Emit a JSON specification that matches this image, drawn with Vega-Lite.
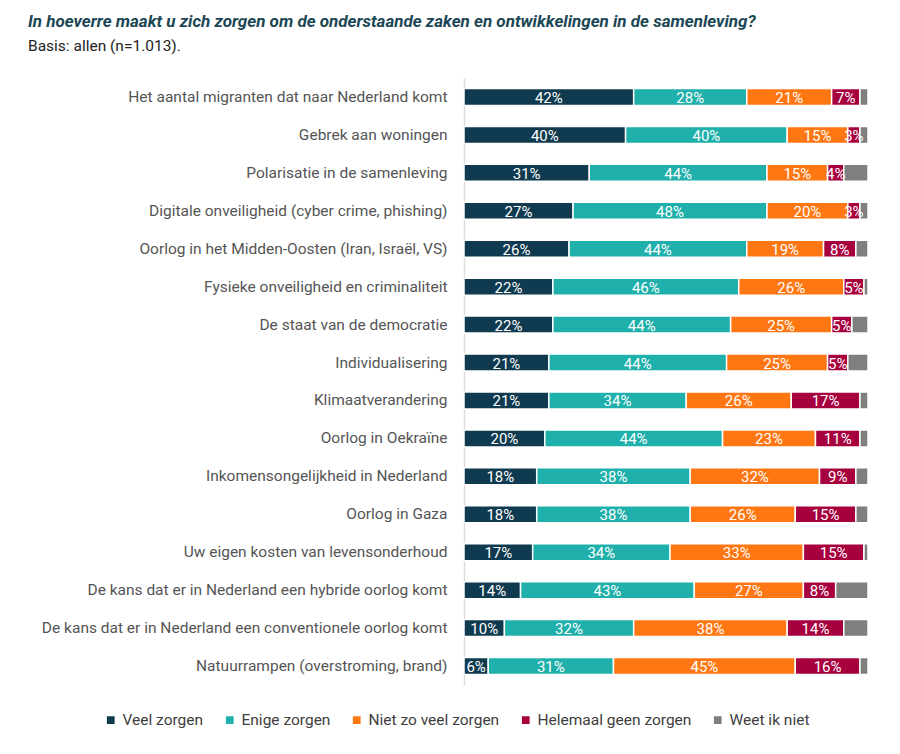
{
  "$schema": "https://vega.github.io/schema/vega-lite/v6.json",
  "autosize": "none",
  "width": 404,
  "height": 607,
  "padding": {"left": 464, "top": 78, "right": 32, "bottom": 69},
  "background": "white",
  "title": {
    "text": "In hoeverre maakt u zich zorgen om de onderstaande zaken en ontwikkelingen in de samenleving?",
    "subtitle": "Basis: allen (n=1.013).",
    "anchor": "start",
    "frame": "group",
    "dx": -436,
    "offset": 23,
    "font": "Roboto",
    "fontSize": 17,
    "fontWeight": "bold",
    "fontStyle": "italic",
    "color": "#1b4755",
    "subtitleFont": "Roboto",
    "subtitleFontSize": 15.5,
    "subtitleColor": "#222222",
    "subtitlePadding": 8
  },
  "data": {"values": [
    {"item": "Het aantal migranten dat naar Nederland komt", "cat": "Veel zorgen", "k": 1, "value": 42},
    {"item": "Het aantal migranten dat naar Nederland komt", "cat": "Enige zorgen", "k": 2, "value": 28},
    {"item": "Het aantal migranten dat naar Nederland komt", "cat": "Niet zo veel zorgen", "k": 3, "value": 21},
    {"item": "Het aantal migranten dat naar Nederland komt", "cat": "Helemaal geen zorgen", "k": 4, "value": 7},
    {"item": "Het aantal migranten dat naar Nederland komt", "cat": "Weet ik niet", "k": 5, "value": 2},
    {"item": "Gebrek aan woningen", "cat": "Veel zorgen", "k": 1, "value": 40},
    {"item": "Gebrek aan woningen", "cat": "Enige zorgen", "k": 2, "value": 40},
    {"item": "Gebrek aan woningen", "cat": "Niet zo veel zorgen", "k": 3, "value": 15},
    {"item": "Gebrek aan woningen", "cat": "Helemaal geen zorgen", "k": 4, "value": 3},
    {"item": "Gebrek aan woningen", "cat": "Weet ik niet", "k": 5, "value": 2},
    {"item": "Polarisatie in de samenleving", "cat": "Veel zorgen", "k": 1, "value": 31},
    {"item": "Polarisatie in de samenleving", "cat": "Enige zorgen", "k": 2, "value": 44},
    {"item": "Polarisatie in de samenleving", "cat": "Niet zo veel zorgen", "k": 3, "value": 15},
    {"item": "Polarisatie in de samenleving", "cat": "Helemaal geen zorgen", "k": 4, "value": 4},
    {"item": "Polarisatie in de samenleving", "cat": "Weet ik niet", "k": 5, "value": 6},
    {"item": "Digitale onveiligheid (cyber crime, phishing)", "cat": "Veel zorgen", "k": 1, "value": 27},
    {"item": "Digitale onveiligheid (cyber crime, phishing)", "cat": "Enige zorgen", "k": 2, "value": 48},
    {"item": "Digitale onveiligheid (cyber crime, phishing)", "cat": "Niet zo veel zorgen", "k": 3, "value": 20},
    {"item": "Digitale onveiligheid (cyber crime, phishing)", "cat": "Helemaal geen zorgen", "k": 4, "value": 3},
    {"item": "Digitale onveiligheid (cyber crime, phishing)", "cat": "Weet ik niet", "k": 5, "value": 2},
    {"item": "Oorlog in het Midden-Oosten (Iran, Israël, VS)", "cat": "Veel zorgen", "k": 1, "value": 26},
    {"item": "Oorlog in het Midden-Oosten (Iran, Israël, VS)", "cat": "Enige zorgen", "k": 2, "value": 44},
    {"item": "Oorlog in het Midden-Oosten (Iran, Israël, VS)", "cat": "Niet zo veel zorgen", "k": 3, "value": 19},
    {"item": "Oorlog in het Midden-Oosten (Iran, Israël, VS)", "cat": "Helemaal geen zorgen", "k": 4, "value": 8},
    {"item": "Oorlog in het Midden-Oosten (Iran, Israël, VS)", "cat": "Weet ik niet", "k": 5, "value": 3},
    {"item": "Fysieke onveiligheid en criminaliteit", "cat": "Veel zorgen", "k": 1, "value": 22},
    {"item": "Fysieke onveiligheid en criminaliteit", "cat": "Enige zorgen", "k": 2, "value": 46},
    {"item": "Fysieke onveiligheid en criminaliteit", "cat": "Niet zo veel zorgen", "k": 3, "value": 26},
    {"item": "Fysieke onveiligheid en criminaliteit", "cat": "Helemaal geen zorgen", "k": 4, "value": 5},
    {"item": "Fysieke onveiligheid en criminaliteit", "cat": "Weet ik niet", "k": 5, "value": 1},
    {"item": "De staat van de democratie", "cat": "Veel zorgen", "k": 1, "value": 22},
    {"item": "De staat van de democratie", "cat": "Enige zorgen", "k": 2, "value": 44},
    {"item": "De staat van de democratie", "cat": "Niet zo veel zorgen", "k": 3, "value": 25},
    {"item": "De staat van de democratie", "cat": "Helemaal geen zorgen", "k": 4, "value": 5},
    {"item": "De staat van de democratie", "cat": "Weet ik niet", "k": 5, "value": 4},
    {"item": "Individualisering", "cat": "Veel zorgen", "k": 1, "value": 21},
    {"item": "Individualisering", "cat": "Enige zorgen", "k": 2, "value": 44},
    {"item": "Individualisering", "cat": "Niet zo veel zorgen", "k": 3, "value": 25},
    {"item": "Individualisering", "cat": "Helemaal geen zorgen", "k": 4, "value": 5},
    {"item": "Individualisering", "cat": "Weet ik niet", "k": 5, "value": 5},
    {"item": "Klimaatverandering", "cat": "Veel zorgen", "k": 1, "value": 21},
    {"item": "Klimaatverandering", "cat": "Enige zorgen", "k": 2, "value": 34},
    {"item": "Klimaatverandering", "cat": "Niet zo veel zorgen", "k": 3, "value": 26},
    {"item": "Klimaatverandering", "cat": "Helemaal geen zorgen", "k": 4, "value": 17},
    {"item": "Klimaatverandering", "cat": "Weet ik niet", "k": 5, "value": 2},
    {"item": "Oorlog in Oekraïne", "cat": "Veel zorgen", "k": 1, "value": 20},
    {"item": "Oorlog in Oekraïne", "cat": "Enige zorgen", "k": 2, "value": 44},
    {"item": "Oorlog in Oekraïne", "cat": "Niet zo veel zorgen", "k": 3, "value": 23},
    {"item": "Oorlog in Oekraïne", "cat": "Helemaal geen zorgen", "k": 4, "value": 11},
    {"item": "Oorlog in Oekraïne", "cat": "Weet ik niet", "k": 5, "value": 2},
    {"item": "Inkomensongelijkheid in Nederland", "cat": "Veel zorgen", "k": 1, "value": 18},
    {"item": "Inkomensongelijkheid in Nederland", "cat": "Enige zorgen", "k": 2, "value": 38},
    {"item": "Inkomensongelijkheid in Nederland", "cat": "Niet zo veel zorgen", "k": 3, "value": 32},
    {"item": "Inkomensongelijkheid in Nederland", "cat": "Helemaal geen zorgen", "k": 4, "value": 9},
    {"item": "Inkomensongelijkheid in Nederland", "cat": "Weet ik niet", "k": 5, "value": 3},
    {"item": "Oorlog in Gaza", "cat": "Veel zorgen", "k": 1, "value": 18},
    {"item": "Oorlog in Gaza", "cat": "Enige zorgen", "k": 2, "value": 38},
    {"item": "Oorlog in Gaza", "cat": "Niet zo veel zorgen", "k": 3, "value": 26},
    {"item": "Oorlog in Gaza", "cat": "Helemaal geen zorgen", "k": 4, "value": 15},
    {"item": "Oorlog in Gaza", "cat": "Weet ik niet", "k": 5, "value": 3},
    {"item": "Uw eigen kosten van levensonderhoud", "cat": "Veel zorgen", "k": 1, "value": 17},
    {"item": "Uw eigen kosten van levensonderhoud", "cat": "Enige zorgen", "k": 2, "value": 34},
    {"item": "Uw eigen kosten van levensonderhoud", "cat": "Niet zo veel zorgen", "k": 3, "value": 33},
    {"item": "Uw eigen kosten van levensonderhoud", "cat": "Helemaal geen zorgen", "k": 4, "value": 15},
    {"item": "Uw eigen kosten van levensonderhoud", "cat": "Weet ik niet", "k": 5, "value": 1},
    {"item": "De kans dat er in Nederland een hybride oorlog komt", "cat": "Veel zorgen", "k": 1, "value": 14},
    {"item": "De kans dat er in Nederland een hybride oorlog komt", "cat": "Enige zorgen", "k": 2, "value": 43},
    {"item": "De kans dat er in Nederland een hybride oorlog komt", "cat": "Niet zo veel zorgen", "k": 3, "value": 27},
    {"item": "De kans dat er in Nederland een hybride oorlog komt", "cat": "Helemaal geen zorgen", "k": 4, "value": 8},
    {"item": "De kans dat er in Nederland een hybride oorlog komt", "cat": "Weet ik niet", "k": 5, "value": 8},
    {"item": "De kans dat er in Nederland een conventionele oorlog komt", "cat": "Veel zorgen", "k": 1, "value": 10},
    {"item": "De kans dat er in Nederland een conventionele oorlog komt", "cat": "Enige zorgen", "k": 2, "value": 32},
    {"item": "De kans dat er in Nederland een conventionele oorlog komt", "cat": "Niet zo veel zorgen", "k": 3, "value": 38},
    {"item": "De kans dat er in Nederland een conventionele oorlog komt", "cat": "Helemaal geen zorgen", "k": 4, "value": 14},
    {"item": "De kans dat er in Nederland een conventionele oorlog komt", "cat": "Weet ik niet", "k": 5, "value": 6},
    {"item": "Natuurrampen (overstroming, brand)", "cat": "Veel zorgen", "k": 1, "value": 6},
    {"item": "Natuurrampen (overstroming, brand)", "cat": "Enige zorgen", "k": 2, "value": 31},
    {"item": "Natuurrampen (overstroming, brand)", "cat": "Niet zo veel zorgen", "k": 3, "value": 45},
    {"item": "Natuurrampen (overstroming, brand)", "cat": "Helemaal geen zorgen", "k": 4, "value": 16},
    {"item": "Natuurrampen (overstroming, brand)", "cat": "Weet ik niet", "k": 5, "value": 2}
  ]},
  "encoding": {
    "y": {
      "field": "item", "type": "nominal", "sort": null, "title": null,
      "scale": {"paddingInner": 0.6, "paddingOuter": 0.3},
      "axis": {
        "ticks": false, "domain": true, "domainColor": "#dddddd", "domainWidth": 1.5,
        "labelFont": "Roboto", "labelFontSize": 15.5, "labelColor": "#555555",
        "labelPadding": 17, "labelLimit": 460
      }
    },
    "x": {
      "field": "value", "type": "quantitative", "stack": "zero",
      "scale": {"domain": [0, 100], "nice": false, "zero": true},
      "axis": null
    },
    "order": {"field": "k", "type": "quantitative"}
  },
  "layer": [
    {
      "mark": {"type": "bar", "stroke": "white", "strokeWidth": 1.5, "height": 17},
      "encoding": {
        "color": {
          "field": "cat", "type": "nominal",
          "scale": {
            "domain": ["Veel zorgen", "Enige zorgen", "Niet zo veel zorgen", "Helemaal geen zorgen", "Weet ik niet"],
            "range": ["#0f3a4f", "#1fb0ab", "#ff7712", "#a7003f", "#7f7f7f"]
          },
          "legend": {
            "title": null, "orient": "none", "direction": "horizontal",
            "legendX": -361, "legendY": 634,
            "symbolType": "square", "symbolSize": 60, "symbolStrokeWidth": 0,
            "labelFont": "Roboto", "labelFontSize": 15.5, "labelColor": "#404040",
            "columnPadding": 18, "symbolOffset": 0, "labelOffset": 4, "labelLimit": 300
          }
        }
      }
    },
    {
      "transform": [{"filter": "datum.cat != 'Weet ik niet'"}],
      "mark": {"type": "text", "color": "white", "font": "Roboto", "fontSize": 15, "baseline": "middle", "align": "center", "dy": 1, "text": {"expr": "datum.value + '%'"}},
      "encoding": {
        "x": {"field": "value", "type": "quantitative", "stack": "zero", "bandPosition": 0.5}
      }
    }
  ],
  "config": {"view": {"stroke": null}}
}
